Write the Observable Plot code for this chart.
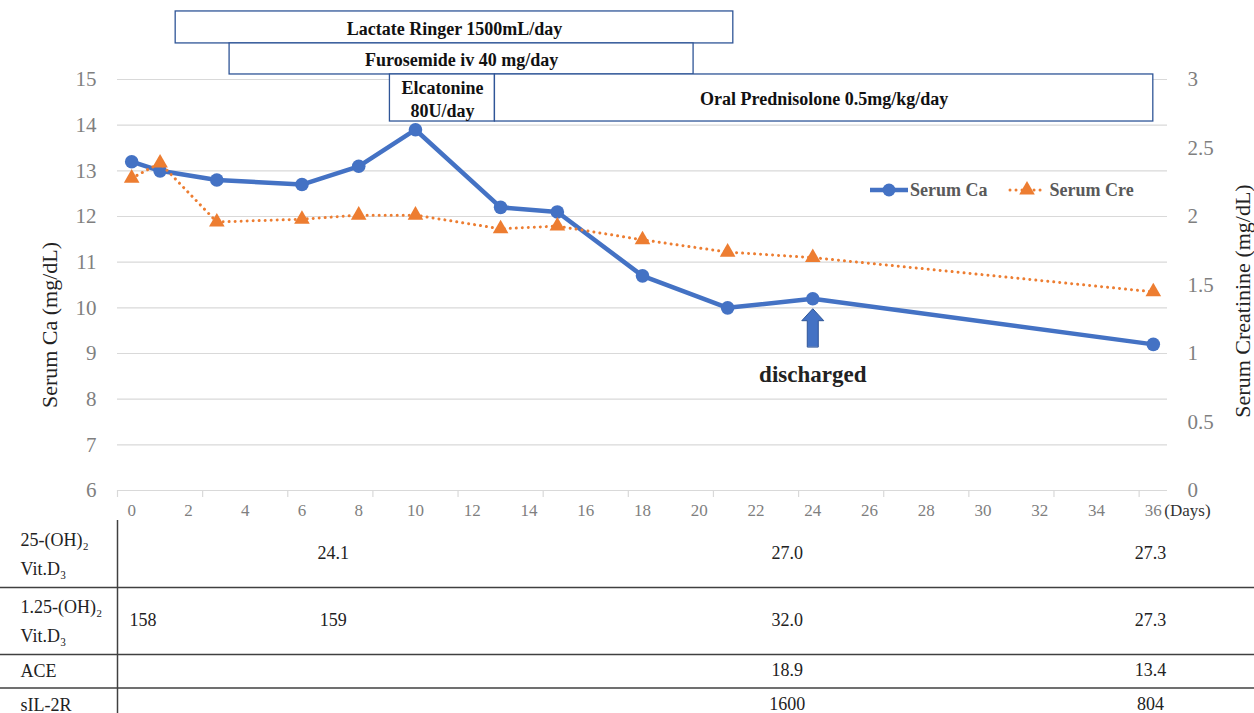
<!DOCTYPE html>
<html>
<head>
<meta charset="utf-8">
<script src="https://cdn.jsdelivr.net/npm/d3@7"></script>
<script src="https://cdn.jsdelivr.net/npm/@observablehq/plot@0.6"></script>
<style>
  body { margin: 0; background: #fff; font-family: "Liberation Serif", "Times New Roman", serif; }
  #wrap { position: relative; width: 1254px; }
  #wrap svg { display: block; font-family: "Liberation Serif", "Times New Roman", serif; }
  #wrap svg text, #wrap svg g { font-family: "Liberation Serif", "Times New Roman", serif !important; font-variant: normal !important; }
  .legend { position: absolute; display: flex; align-items: center; font-weight: bold; font-size: 18px; color: #595959; white-space: nowrap; }
  .legend svg { display: inline-block; }
</style>
</head>
<body>
<div id="wrap"></div>
<script>
// ---------- data ----------
const days     = [0, 1, 3, 6, 8, 10, 13, 15, 18, 21, 24, 36];
const serumCa  = [13.2, 13.0, 12.8, 12.7, 13.1, 13.9, 12.2, 12.1, 10.7, 10.0, 10.2, 9.2];
const serumCre = [2.28, 2.39, 1.96, 1.98, 2.01, 2.01, 1.91, 1.93, 1.83, 1.74, 1.70, 1.45];

const caTicks  = [6, 7, 8, 9, 10, 11, 12, 13, 14, 15];
const creTicks = [0, 0.5, 1, 1.5, 2, 2.5, 3];
const dayLabels = [0, 2, 4, 6, 8, 10, 12, 14, 16, 18, 20, 22, 24, 26, 28, 30, 32, 34, 36];

const treatNames = ["Lactate Ringer 1500mL/day", "Furosemide iv 40 mg/day", "Elcatonine\n80U/day", "Oral Prednisolone 0.5mg/kg/day"];
const treatStart = [1.55, 3.45, 9.1, 12.8];
const treatEnd   = [21.2, 19.8, 12.8, 36.0];
const treatLane  = [0, 1, 2, 2];

const dischargeDay = 24;

const rowLabels = ["25-(OH)₂\nVit.D₃", "1.25-(OH)₂\nVit.D₃", "ACE", "sIL-2R"];
const rowLines  = [2, 2, 1, 1];
const tableCols = [0.4, 7.1, 23.1, 35.9];
const vitD25    = ["", "24.1", "27.0", "27.3"];
const vitD125   = ["158", "159", "32.0", "27.3"];
const ace       = ["", "", "18.9", "13.4"];
const sil2r     = ["", "", "1600", "804"];

const seriesNames = ["Serum Ca", "Serum Cre"];
const blue = "#4472C4", orange = "#ED7D31", boxBlue = "#2F5597";

// ---------- helpers ----------
const creToCa = v => 6 + v * 3;           // secondary axis (0–3) onto primary (6–15)
const laneTop    = [16.49, 15.79, 15.11];  // lane layout in primary-axis units (above the frame)
const laneBottom = [15.79, 15.11, 14.08];

const caData  = days.map((d, i) => ({day: d, ca: serumCa[i]}));
const creData = days.map((d, i) => ({day: d, cre: serumCre[i]}));
const treatData = treatNames.map((n, i) => ({
  name: n, start: treatStart[i], end: treatEnd[i],
  top: laneTop[treatLane[i]], bottom: laneBottom[treatLane[i]]
}));
const discharge = [{day: dischargeDay, ca: serumCa[days.indexOf(dischargeDay)]}];

const blockArrow = {
  draw(context, l) {
    const head = 12, hw = 11, sw = 5.5;
    context.moveTo(-sw, 0);
    context.lineTo(-sw, -(l - head));
    context.lineTo(-hw, -(l - head));
    context.lineTo(0, -l);
    context.lineTo(hw, -(l - head));
    context.lineTo(sw, -(l - head));
    context.lineTo(sw, 0);
    context.closePath();
  }
};

const font = "Liberation Serif";
const dotted = {strokeWidth: 3, strokeDasharray: "0.01,6", strokeLinecap: "round"};

// ---------- chart ----------
const chart = Plot.plot({
  width: 1254, height: 520,
  marginTop: 79, marginBottom: 30, marginLeft: 117, marginRight: 87,
  style: {fontFamily: font, background: "white", overflow: "visible"},
  x: {domain: [-0.5, 36.5]},
  y: {domain: [6, 15]},
  marks: [
    Plot.gridY(caTicks, {stroke: "#d9d9d9", strokeOpacity: 1, strokeWidth: 1.2}),
    Plot.axisY(caTicks, {anchor: "left", tickSize: 0, tickPadding: 21, fontSize: 21, fill: "#7f7f7f", label: null, fontFamily: font, fontVariant: "normal"}),
    Plot.axisY(creTicks.map(creToCa), {anchor: "right", tickSize: 0, tickPadding: 20, fontSize: 21, fill: "#7f7f7f", label: null, fontFamily: font, fontVariant: "normal",
      tickFormat: d => String(+((d - 6) / 3).toFixed(2))}),
    Plot.axisX(d3.range(-0.5, 36, 3), {tickSize: 7, stroke: "#d9d9d9", strokeWidth: 1.2, tickFormat: () => "", label: null}),
    Plot.axisX(dayLabels, {tickSize: 0, tickPadding: 13, fontSize: 17, fill: "#7f7f7f", label: null, fontFamily: font, fontVariant: "normal"}),
    Plot.text(["(Days)"], {x: () => 36, frameAnchor: "bottom", dy: 25, dx: 11, textAnchor: "start", fontSize: 17, fill: "#333", fontFamily: font}),
    Plot.text(["Serum Ca (mg/dL)"], {frameAnchor: "left", textAnchor: "middle", rotate: -90, dx: -68, dy: 40, fontSize: 22, fill: "#222", fontFamily: font}),
    Plot.text(["Serum Creatinine (mg/dL)"], {frameAnchor: "right", textAnchor: "middle", rotate: -90, dx: 75, dy: 16, fontSize: 22, fill: "#222", fontFamily: font}),

    // treatments
    Plot.rect(treatData, {x1: "start", x2: "end", y1: "top", y2: "bottom", fill: "white", stroke: boxBlue, strokeWidth: 1.3}),
    Plot.text(treatData, {x: d => (d.start + d.end) / 2, y: d => (d.top + d.bottom) / 2, text: "name",
      fontWeight: "bold", fontSize: 18, fill: "#111", lineHeight: 1.28, fontFamily: font}),

    // series
    Plot.line(caData, {x: "day", y: "ca", stroke: blue, strokeWidth: 4.5}),
    Plot.dot(caData, {x: "day", y: "ca", r: 6.8, fill: blue}),
    Plot.line(creData, {x: "day", y: d => creToCa(d.cre), stroke: orange, ...dotted}),
    Plot.dot(creData, {x: "day", y: d => creToCa(d.cre), symbol: "triangle", r: 5.8, fill: orange}),

    // discharge
    Plot.vector(discharge, {x: "day", y: "ca", length: 38, anchor: "end", dy: 10, shape: blockArrow,
      fill: blue, stroke: boxBlue, strokeWidth: 1}),
    Plot.text(discharge, {x: "day", y: "ca", text: () => "discharged", dy: 76, fontSize: 23, fontWeight: "bold", fill: "#222", fontFamily: font})
  ]
});

// ---------- table ----------
const rowStart = rowLines.map((n, i) => d3.sum(rowLines.slice(0, i)));
const rowData = rowLabels.map((l, i) => ({label: l, mid: rowStart[i] + rowLines[i] / 2}));
const cellRows = [vitD25, vitD125, ace, sil2r];
const cells = [];
cellRows.forEach((row, r) => row.forEach((v, c) => { if (v) cells.push({text: v, col: tableCols[c], mid: rowData[r].mid}); }));
const totalLines = d3.sum(rowLines);
const lineH = 33.5;

const table = Plot.plot({
  width: 1254, height: totalLines * lineH,
  margin: 0,
  style: {fontFamily: font, background: "white", overflow: "visible"},
  x: {domain: [-0.5, 36.5], range: [117, 1167], axis: null},
  y: {domain: [0, totalLines], range: [0, totalLines * lineH], axis: null},
  marks: [
    Plot.ruleY(rowStart.slice(1), {stroke: "#404040", strokeWidth: 1.5}),
    Plot.ruleX([-0.5], {y1: 0, y2: totalLines, stroke: "#404040", strokeWidth: 1.5}),
    Plot.text(rowData, {y: "mid", text: "label", frameAnchor: "left", dx: 20, dy: -3, textAnchor: "start", fontSize: 18, fill: "#222", lineHeight: 1.6, fontFamily: font}),
    Plot.text(cells, {x: "col", y: "mid", text: "text", dy: -1, fontSize: 18, fill: "#222", fontFamily: font})
  ]
});

const wrap = document.getElementById("wrap");
wrap.appendChild(chart);
wrap.appendChild(table);

// ---------- legend ----------
const legend = document.createElement("div");
legend.className = "legend";
legend.style.left = "869px";
legend.style.top = "178px";
legend.innerHTML =
  `<svg width="40" height="24"><line x1="1" y1="12" x2="39" y2="12" stroke="${blue}" stroke-width="4.5"/><circle cx="20" cy="12" r="6.5" fill="${blue}"/></svg>` +
  `<span style="margin-left:1px">${seriesNames[0]}</span>` +
  `<svg width="40" height="24" style="margin-left:20px"><line x1="2" y1="12" x2="38" y2="12" stroke="${orange}" stroke-width="3" stroke-dasharray="0.01,6" stroke-linecap="round"/>` +
  `<path d="${d3.symbol(d3.symbolTriangle, Math.PI * 5.8 * 5.8)()}" transform="translate(19,12)" fill="${orange}"/></svg>` +
  `<span style="margin-left:2px">${seriesNames[1]}</span>`;
wrap.appendChild(legend);
</script>
</body>
</html>
